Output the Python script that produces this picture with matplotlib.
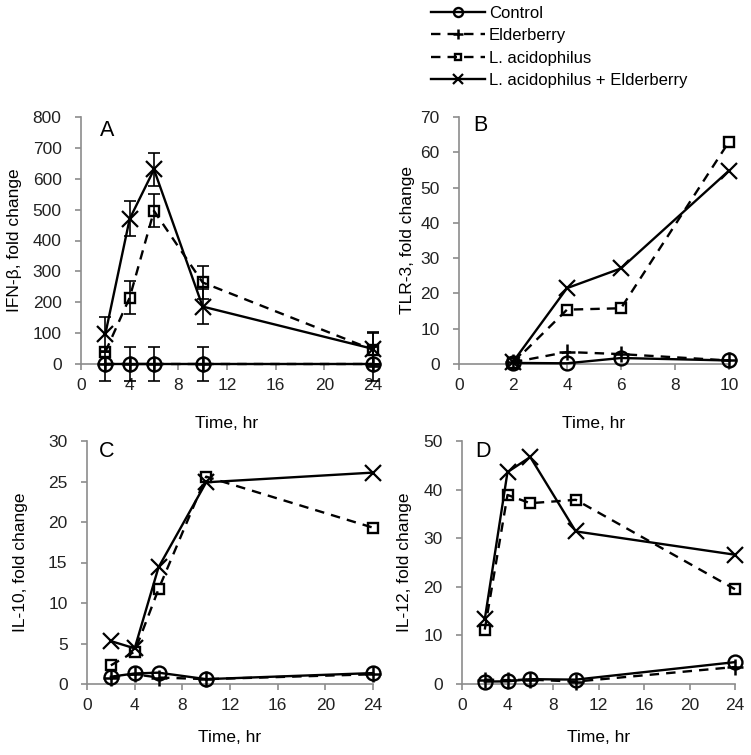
import matplotlib
matplotlib.use("Agg")
import matplotlib.pyplot as plt

plt.rcParams['font.family'] = ['Liberation Sans', 'DejaVu Sans']

series_names = ["Control", "Elderberry", "L. acidophilus", "L. acidophilus + Elderberry"]

# Panel A: IFN-beta
time_a = [2, 4, 6, 10, 24]
ifn_control = [0, 0, 0, 0, 0]
ifn_elder = [0, 0, 0, 0, 0]
ifn_la = [39, 215, 496, 264, 46]
ifn_lae = [97, 470, 630, 186, 49]
ifn_err_control = [55, 55, 55, 55, 55]
ifn_err_elder = [0, 0, 0, 0, 0]
ifn_err_la = [0, 54, 53, 53, 55]
ifn_err_lae = [55, 57, 54, 57, 55]

# Panel B: TLR-3
time_b = [2, 4, 6, 10]
tlr_control = [0.3, 0.2, 1.7, 1.0]
tlr_elder = [0.5, 3.4, 2.8, 1.0]
tlr_la = [0.3, 15.4, 15.8, 63.0]
tlr_lae = [0.6, 21.5, 27.1, 54.8]

# Panel C: IL-10
time_c = [2, 4, 6, 10, 24]
il10_control = [0.9, 1.3, 1.4, 0.6, 1.35]
il10_elder = [0.8, 1.2, 0.8, 0.6, 1.2]
il10_la = [2.3, 4.0, 11.7, 25.6, 19.3]
il10_lae = [5.3, 4.4, 14.4, 24.9, 26.1]

# Panel D: IL-12
time_d = [2, 4, 6, 10, 24]
il12_control = [0.5, 0.55, 1.0, 0.9, 4.5]
il12_elder = [0.9, 0.8, 0.9, 0.5, 3.5]
il12_la = [11.2, 38.9, 37.2, 37.9, 19.5]
il12_lae = [13.3, 43.6, 46.7, 31.4, 26.6]

W, H = 751, 755
fig = plt.figure(figsize=(W / 100, H / 100), dpi=100)

def ax_at(l, r, b, t):
    return fig.add_axes([l / W, 1 - b / H, (r - l) / W, (b - t) / H])

styles = [
    dict(marker='o', ls='-', ms=10, fillstyle='none', mew=1.7),
    dict(marker='+', ls=(0, (4, 3)), ms=11, mew=1.8),
    dict(marker='s', ls=(0, (4, 3)), ms=7.5, fillstyle='none', mew=1.7),
    dict(marker='x', ls='-', ms=11, mew=1.6),
]

gray = '#8c8c8c'

def setup(ax, xlim, xticks, ylim, yticks, ylabel, letter, lx, ly, ylx, xly):
    ax.set_xlim(*xlim)
    ax.set_ylim(*ylim)
    ax.set_xticks(xticks)
    ax.set_yticks(yticks)
    for s in ['top', 'right']:
        ax.spines[s].set_visible(False)
    for s in ['left', 'bottom']:
        ax.spines[s].set_color(gray)
        ax.spines[s].set_linewidth(1.2)
    ax.tick_params(direction='out', length=4, width=1.2, color=gray,
                   labelsize=12.5, labelcolor='#222222')
    ax.tick_params(axis='y', pad=10)
    ax.tick_params(axis='x', pad=6)
    ax.set_ylabel(ylabel, fontsize=12.5)
    ax.yaxis.set_label_coords(ylx, 0.5)
    ax.set_xlabel("Time, hr", fontsize=12.5)
    ax.xaxis.set_label_coords(0.5, xly)
    ax.text(lx, ly, letter, transform=ax.transAxes, fontsize=15.5,
            ha='center', va='center')

def draw(ax, x, ys, errs=None):
    handles = []
    for i, y in enumerate(ys):
        st = styles[i]
        if errs is not None and errs[i] is not None:
            ax.errorbar(x, y, yerr=errs[i], fmt='none', ecolor='black',
                        elinewidth=1.2, capsize=4.5, capthick=1.2,
                        clip_on=False, zorder=2)
        h, = ax.plot(x, y, color='black', lw=1.7, clip_on=False, zorder=3,
                     label=series_names[i], **st)
        handles.append(h)
    return handles

axA = ax_at(81, 373, 364, 117)
hs = draw(axA, time_a, [ifn_control, ifn_elder, ifn_la, ifn_lae],
          [ifn_err_control, ifn_err_elder, ifn_err_la, ifn_err_lae])
setup(axA, (0, 24), range(0, 25, 4), (0, 800), range(0, 801, 100),
      "IFN-β, fold change", "A", 0.089, 0.947, -0.202, -0.21)

axB = ax_at(459, 729, 364, 117)
draw(axB, time_b, [tlr_control, tlr_elder, tlr_la, tlr_lae])
setup(axB, (0, 10), range(0, 11, 2), (0, 70), range(0, 71, 10),
      "TLR-3, fold change", "B", 0.081, 0.964, -0.163, -0.21)

axC = ax_at(87, 373, 684, 441)
draw(axC, time_c, [il10_control, il10_elder, il10_la, il10_lae])
setup(axC, (0, 24), range(0, 25, 4), (0, 30), range(0, 31, 5),
      "IL-10, fold change", "C", 0.07, 0.955, -0.206, -0.189)

axD = ax_at(462, 735, 684, 441)
draw(axD, time_d, [il12_control, il12_elder, il12_la, il12_lae])
setup(axD, (0, 24), range(0, 25, 4), (0, 50), range(0, 51, 10),
      "IL-12, fold change", "D", 0.077, 0.955, -0.183, -0.189)

fig.legend(handles=hs, labels=series_names, loc='upper left',
           bbox_to_anchor=(428 / W, 0.997), frameon=False, fontsize=12,
           handlelength=3.2, handletextpad=0.25, labelspacing=0.45,
           borderaxespad=0.1, borderpad=0.1, markerscale=0.65)

fig.savefig("out.png", dpi=100)
